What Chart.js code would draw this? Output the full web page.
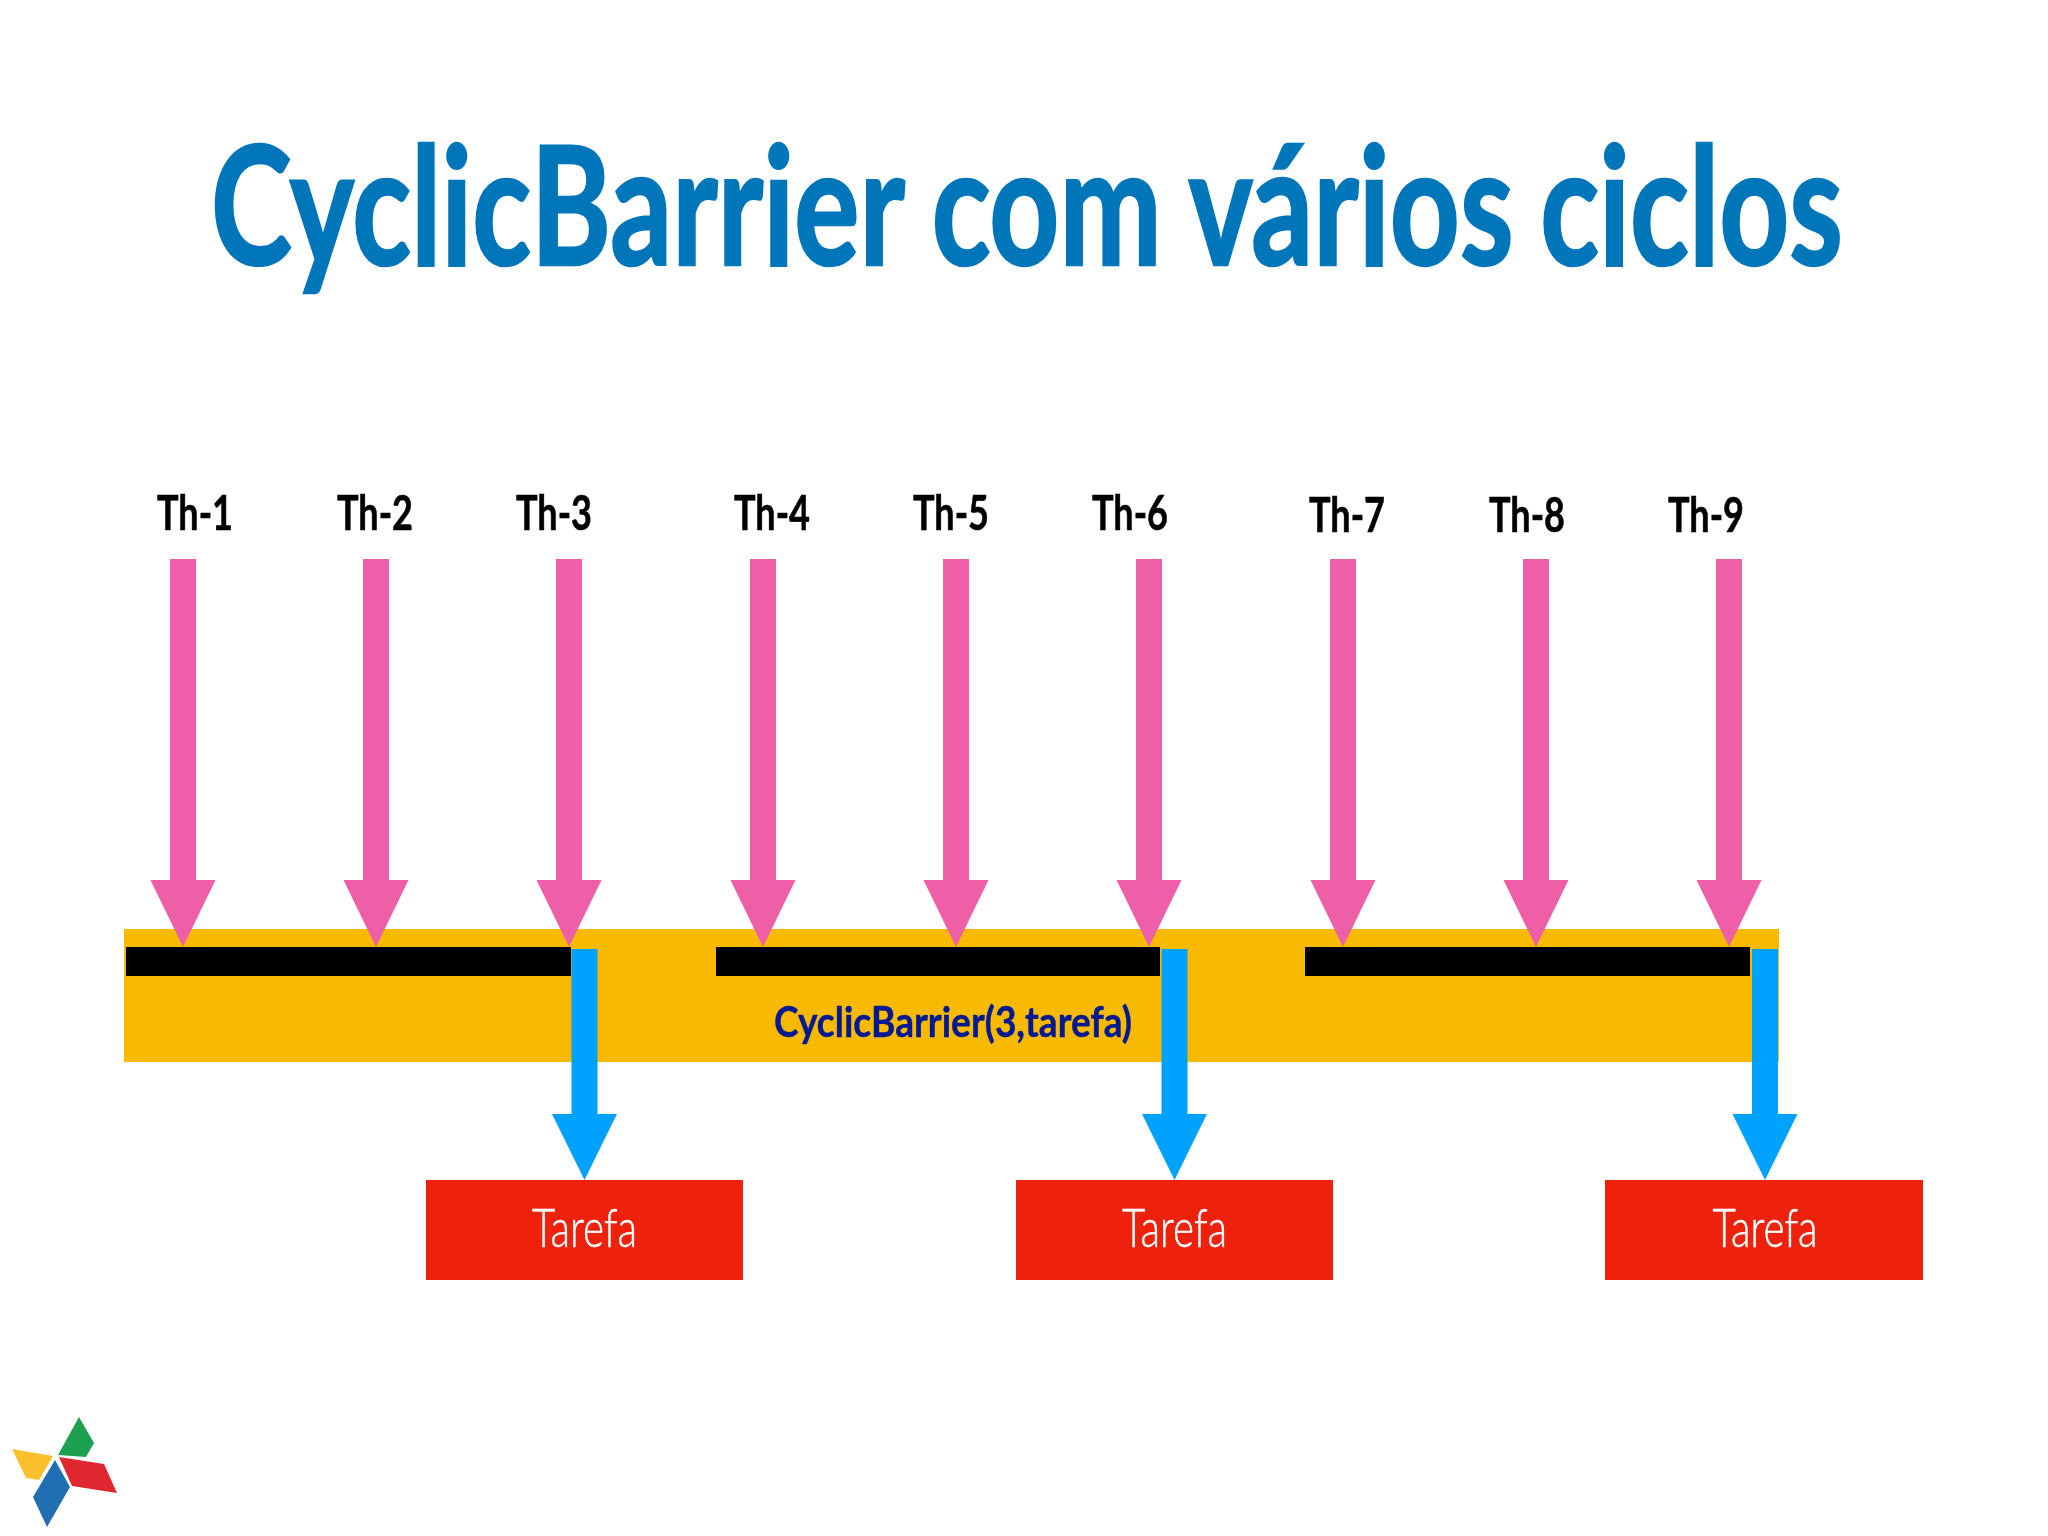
<!DOCTYPE html>
<html>
<head>
<meta charset="utf-8">
<title>CyclicBarrier com vários ciclos</title>
<script src="https://cdn.jsdelivr.net/npm/chart.js@4/dist/chart.umd.js"></script>
<style>
  html, body { margin: 0; padding: 0; background: #fff; }
  canvas { display: block; }
</style>
</head>
<body>
<canvas id="chart" width="2048" height="1536"></canvas>
<script>
const threadNames = ['Th-1', 'Th-2', 'Th-3', 'Th-4', 'Th-5', 'Th-6', 'Th-7', 'Th-8', 'Th-9'];
const threadArrivals = [183, 376, 569, 763, 956, 1149, 1343, 1536, 1729];
const threadLabelX = [195, 375, 554, 772, 951, 1130, 1347, 1527, 1706];
const threadLabelY = [530, 530, 530, 530, 530, 530, 532, 532, 532];

const cycleStarts = [126, 716, 1305];
const cycleEnds = [571, 1160, 1750];

const taskNames = ['Tarefa', 'Tarefa', 'Tarefa'];
const taskReleases = [584.5, 1174.5, 1765];
const taskStarts = [426, 1016, 1605];
const taskEnds = [743, 1333, 1923];

const barrierSpan = [124, 1779];
const barrierLabel = 'CyclicBarrier(3,tarefa)';
const chartTitle = 'CyclicBarrier com vários ciclos';

const logoGreen = [[79, 1417], [94, 1443], [86, 1457], [58, 1455]];
const logoYellow = [[12, 1449], [53, 1456], [39, 1480], [26, 1478]];
const logoRed = [[59, 1457], [104, 1464], [117, 1493], [72, 1486]];
const logoBlue = [[55, 1460], [70, 1487], [47, 1527], [33, 1497]];

function shape(color, corners) {
    const pts = corners.map(c => ({ x: c[0], y: c[1] }));
    pts.push(pts[0]);
    return {
        data: pts,
        fill: 'shape',
        backgroundColor: color,
        borderWidth: 0,
        pointRadius: 0,
        tension: 0
    };
}

function rect(color, x0, x1, y0, y1) {
    return shape(color, [[x0, y0], [x1, y0], [x1, y1], [x0, y1]]);
}

// seta apontando para baixo
function arrow(color, x, top, headTop, tip) {
    const s = 13, h = 32.5;
    return shape(color, [
        [x - s, top], [x + s, top], [x + s, headTop], [x + h, headTop],
        [x, tip], [x - h, headTop], [x - s, headTop]
    ]);
}

// o Chart.js desenha o primeiro dataset por cima, por isso o reverse no final
const datasets = [
    rect('#F8BA00', barrierSpan[0], barrierSpan[1], 929, 1062),
    ...cycleStarts.map((s, i) => rect('#000000', s, cycleEnds[i], 947, 976)),
    ...threadArrivals.map(x => arrow('#EF5FA7', x, 559, 880, 947)),
    ...taskReleases.map(x => arrow('#00A2FF', x, 949, 1114, 1180)),
    ...taskStarts.map((s, i) => rect('#EE220C', s, taskEnds[i], 1180, 1280)),
    shape('#1DA04F', logoGreen),
    shape('#FBC02D', logoYellow),
    shape('#E0262E', logoRed),
    shape('#1F6FB2', logoBlue)
].reverse();

const textPlugin = {
    id: 'diagramText',
    afterDatasetsDraw(chart) {
        const { ctx, scales: { x, y } } = chart;
        const put = (text, px, py, font, color, width, thicken) => {
            const cx = x.getPixelForValue(px), cy = y.getPixelForValue(py);
            ctx.font = font;
            ctx.fillStyle = color;
            ctx.textAlign = 'center';
            ctx.textBaseline = 'alphabetic';
            ctx.fillText(text, cx, cy, width);
            if (thicken) {
                ctx.strokeStyle = color;
                ctx.lineWidth = thicken;
                ctx.strokeText(text, cx, cy, width);
            }
        };
        ctx.save();
        ctx.wordSpacing = '-4px';
        put(chartTitle, 1027, 265, '700 164px Lato', '#0076BA', 1632, 2.5);
        ctx.wordSpacing = '0px';
        threadNames.forEach((name, i) => {
            put(name, threadLabelX[i], threadLabelY[i], '700 47px Lato', '#000000', 76, 0.6);
        });
        put(barrierLabel, 953, 1037, '700 42px Lato', '#011993', 358, 0.4);
        taskNames.forEach((name, i) => {
            put(name, taskReleases[i], 1247, '300 54px Lato', '#FFFFFF', 105, 0.5);
        });
        ctx.restore();
    }
};

new Chart(document.getElementById('chart').getContext('2d'), {
    type: 'line',
    data: { datasets: datasets },
    plugins: [textPlugin],
    options: {
        responsive: false,
        animation: false,
        devicePixelRatio: 1,
        layout: { padding: 0 },
        plugins: { legend: { display: false }, tooltip: { enabled: false }, title: { display: false } },
        scales: {
            x: { type: 'linear', min: 0, max: 2048, display: false },
            y: { type: 'linear', min: 0, max: 1536, reverse: true, display: false }
        }
    }
});
</script>
</body>
</html>
